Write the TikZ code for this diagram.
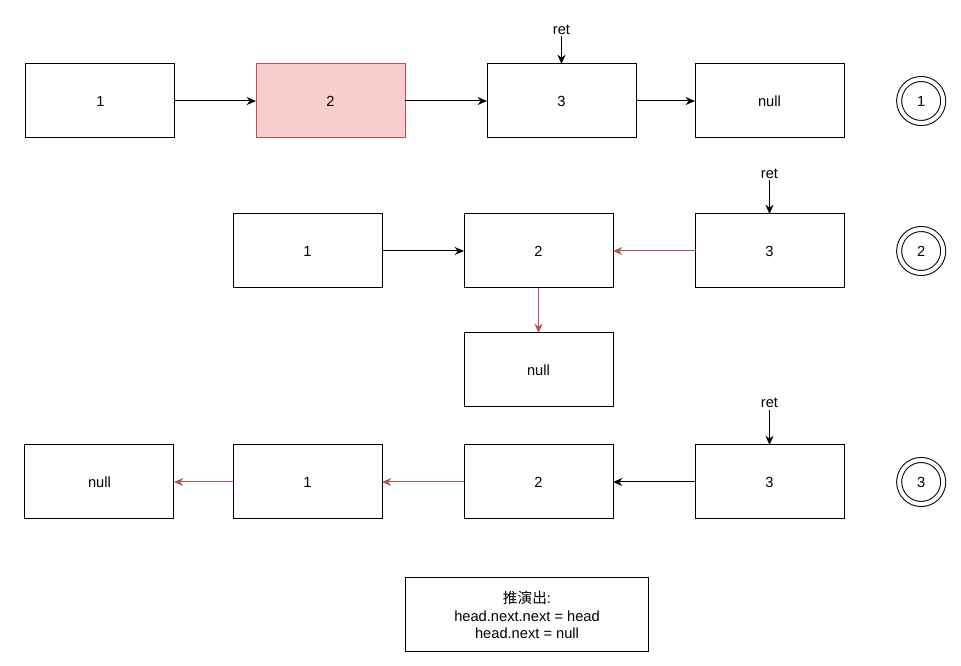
\documentclass[tikz,border=0pt]{standalone}
\usepackage{fontspec}
\setmainfont{Liberation Sans}
\newfontfamily\cjk{Noto Sans CJK SC}
\usetikzlibrary{arrows.meta, positioning}

\definecolor{hlfill}{HTML}{F8CECC}
\definecolor{hldraw}{HTML}{B85450}

\begin{document}
\begin{tikzpicture}[
    font=\fontsize{11pt}{13pt}\selectfont,
    box/.style={
        draw,
        line width=0.75pt,
        outer sep=0pt,
        align=center,
        minimum width=111.75pt,
        minimum height=55.5pt
    },
    arrow/.style={-{Stealth[length=7pt,width=6pt]}, line width=0.75pt},
    redarrow/.style={arrow, draw=hldraw},
    stage/.style={draw, circle, double, double distance=3pt,
        line width=0.75pt, minimum size=33pt, inner sep=0pt},
    retlabel/.style={inner sep=1pt}
]
\useasboundingbox (-75.375pt,-423.75pt) rectangle (645.375pt,75.75pt);

% ------------------------
% Step 1
% ------------------------
\node (a1) [box] at (0,0) {1};
\node (a2) [box, right=60.75pt of a1, fill=hlfill, draw=hldraw] {2};
\node (a3) [box, right=61.5pt of a2] {3};
\node (anull) [box, right=44.25pt of a3] {null};

\node (reta) [retlabel, above=21pt of a3] {ret};
\node (stepa) [stage, right=41pt of anull] {1};

\draw[arrow] (a1) -- (a2);
\draw[arrow] (a2) -- (a3);
\draw[arrow] (a3) -- (anull);
\draw[arrow] (reta) -- (a3);

% ------------------------
% Step 2
% ------------------------
\node (b3) [box, below=57pt of anull] {3};
\node (b2) [box, left=61.5pt of b3] {2};
\node (b1) [box, left=61.5pt of b2] {1};
\node (bnull) [box, below=33.75pt of b2] {null};

\node (retb) [retlabel, above=25.5pt of b3] {ret};
\node (stepb) [stage, right=41pt of b3] {2};

\draw[arrow] (b1) -- (b2);
\draw[redarrow] (b3) -- (b2);
\draw[redarrow] (b2) -- (bnull);
\draw[arrow] (retb) -- (b3);

% ------------------------
% Step 3
% ------------------------
\node (c3) [box, below=117.75pt of b3] {3};
\node (c2) [box, left=61.5pt of c3] {2};
\node (c1) [box, left=61.5pt of c2] {1};
\node (cnull) [box, left=44.25pt of c1] {null};

\node (retc) [retlabel, above=26.5pt of c3] {ret};
\node (stepc) [stage, right=41pt of c3] {3};

\draw[arrow] (c3) -- (c2);
\draw[redarrow] (c2) -- (c1);
\draw[redarrow] (c1) -- (cnull);
\draw[arrow] (retc) -- (c3);

% ------------------------
% Result
% ------------------------
\node (result) [box, minimum width=182.25pt, below=44.25pt of c2, xshift=-8.6pt]
{{\cjk 推演出}:\\ head.next.next = head\\ head.next = null};

\end{tikzpicture}
\end{document}
